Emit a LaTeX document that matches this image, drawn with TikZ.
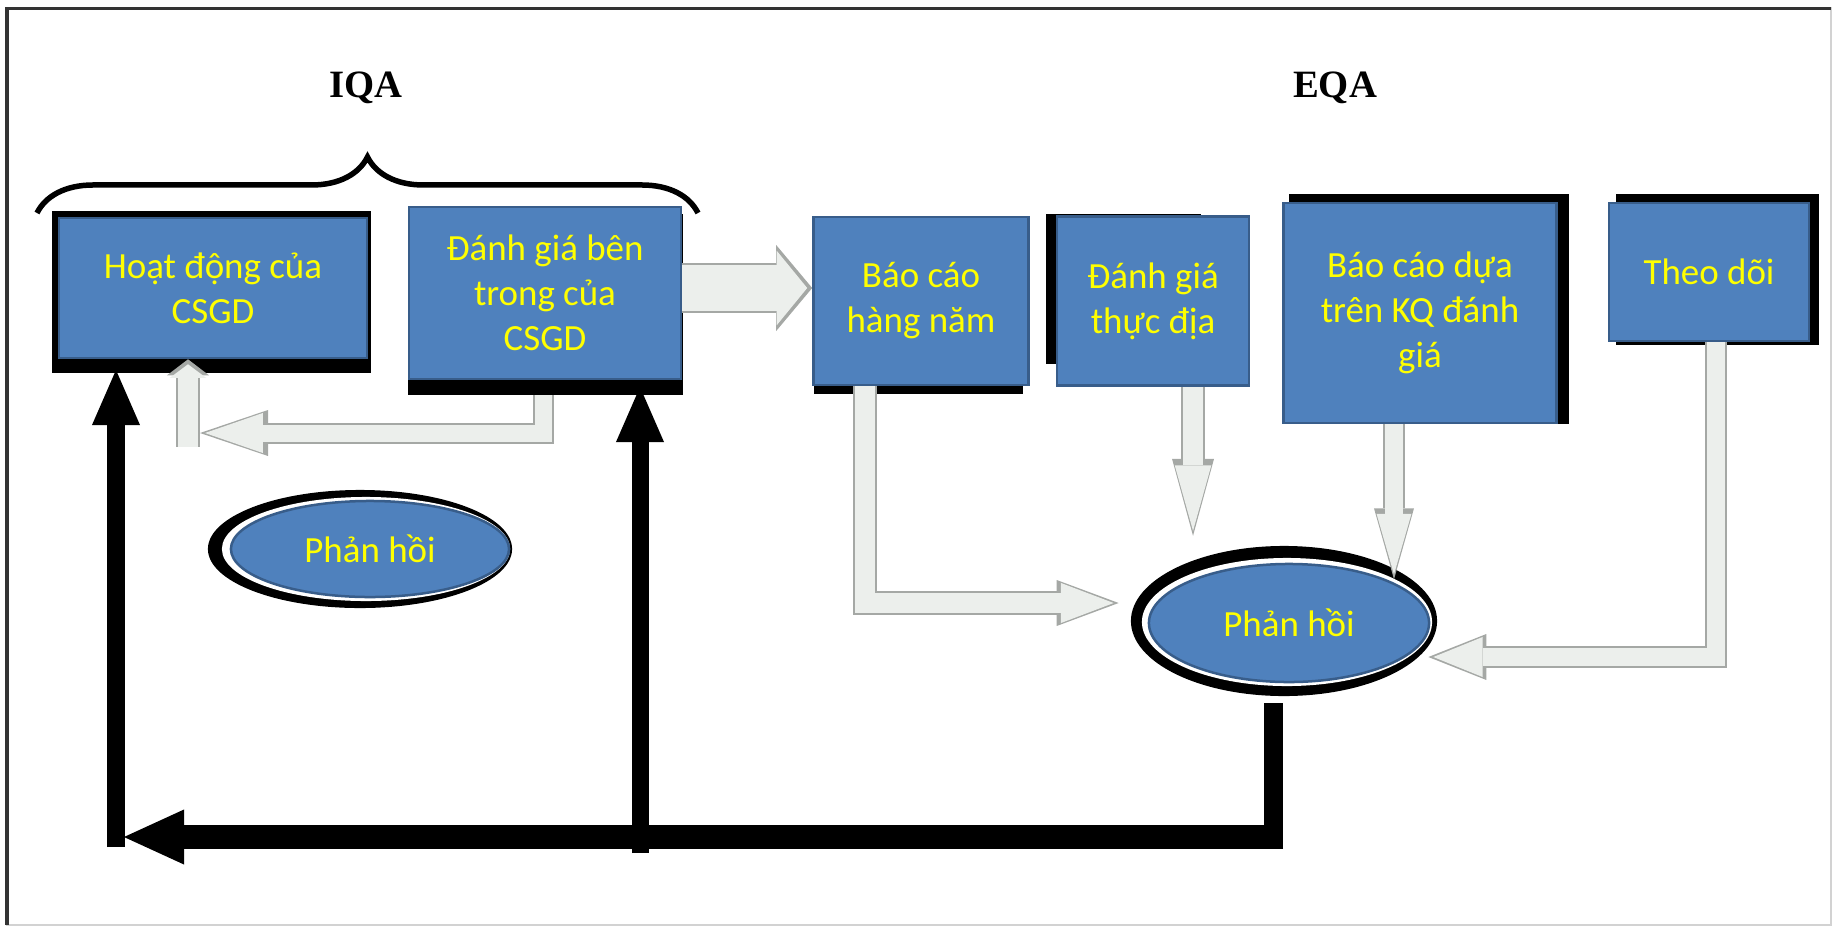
\documentclass[tikz,border=0pt]{standalone}
\usepackage{fontspec}
\newfontfamily\boxfont{Carlito}
\newfontfamily\headfont{Liberation Serif}
\usepackage{tikz}
\usetikzlibrary{arrows.meta, positioning, shapes.geometric, decorations.pathreplacing, backgrounds}
\definecolor{boxblue}{RGB}{79,129,189}
\definecolor{boxedge}{RGB}{56,93,138}
\definecolor{textyellow}{RGB}{255,255,0}
\definecolor{arrowrim}{RGB}{165,168,165}
\definecolor{arrowfill}{RGB}{236,239,236}

\begin{document}
\begin{tikzpicture}[x=0.01cm, y=-0.01cm,
      box/.style={rectangle, draw=boxedge, line width=0.025cm, fill=boxblue, text=textyellow, align=center, inner sep=0pt, font=\boxfont\fontsize{10.5}{12.8}\selectfont},
      fb/.style={ellipse, draw=boxedge, line width=0.025cm, fill=boxblue, text=textyellow, inner sep=0pt, font=\boxfont\fontsize{10.5}{12.8}\selectfont},
      head/.style={font=\headfont\bfseries\fontsize{11}{13}\selectfont},
      feedline/.style={draw=black, line width=0.17cm, line join=miter, -{Triangle[length=0.55cm, width=0.48cm, line width=0pt]}},
      hollow/.style n args={3}{preaction={draw=arrowrim, line width=#1+0.04cm, shorten >=0pt, -{Triangle[length=#3, width=#2, line width=0pt]}}, draw=arrowfill, line width=#1, line join=miter, shorten >=0.05cm, -{Triangle[length=0.85*#3, width=0.87*#2, line width=0pt]}}]
      \useasboundingbox (0,0) rectangle (1833,927);
      \draw[gray!35] (7,8) rectangle (1831,925);
      \draw[black!80, line width=0.03cm] (7,925) -- (7,8) -- (1831,8);

      \node[head] (iqa) at (366,88) {IQA};
      \node[head] (eqa) at (1335,88) {EQA};
      \draw[line width=0.055cm, decorate, decoration={brace, amplitude=0.56cm}] (37,213) -- (698,213);

      \node[box, minimum width=3.08cm, minimum height=1.40cm] (hoatdong) at (213,288) {Hoạt động của\\CSGD};
      \node[box, minimum width=2.72cm, minimum height=1.72cm] (dgbt) at (545,293) {Đánh giá bên\\trong của\\CSGD};
      \node[box, minimum width=2.15cm, minimum height=1.68cm] (baocao) at (921,301) {Báo cáo\\hàng năm};
      \node[box, minimum width=1.92cm, minimum height=1.69cm] (thucdia) at (1153,301) {Đánh giá\\thực địa};
      \node[box, minimum width=2.73cm, minimum height=2.20cm] (ketqua) at (1420,313) {Báo cáo dựa\\trên KQ đánh\\giá};
      \node[box, minimum width=2.00cm, minimum height=1.38cm] (theodoi) at (1709,272) {Theo dõi};
      \node[fb, minimum width=2.78cm, minimum height=0.96cm] (phtrong) at (370,549) {Phản hồi};
      \node[fb, minimum width=2.80cm, minimum height=1.18cm] (phngoai) at (1289,623) {Phản hồi};

      \coordinate (a1) at ([yshift=0.05cm]dgbt.east);
      \coordinate (a2) at ([shift={(-2,15)}]dgbt.south);
      \coordinate (upfoot) at (188,447);
      \coordinate (a4) at ([xshift=-0.56cm]baocao.south);
      \coordinate (low1) at (116,847);
      \coordinate (low2) at (640,853);
      \coordinate (turn) at (1273,837);

      \begin{pgfonlayer}{background}
        \foreach \n/\a/\b/\c/\d in {hoatdong/-6/-6/3/14, dgbt/0/8/1/15, baocao/2/13/-7/8, thucdia/-10/-1/-49/-23, ketqua/7/-8/11/0, theodoi/8/-8/9/3}
          \fill[black] ([shift={(\a,\b)}]\n.north west) rectangle ([shift={(\c,\d)}]\n.south east);
        \fill[black] ([xshift=-0.10cm]phtrong.center) ellipse [x radius=1.52cm, y radius=0.59cm];
        \fill[white] ([xshift=-0.04cm]phtrong.center) ellipse [x radius=1.44cm, y radius=0.52cm];
        \fill[black] ([xshift=-0.05cm, yshift=0.02cm]phngoai.center) ellipse [x radius=1.53cm, y radius=0.75cm];
        \fill[white] ([xshift=-0.02cm, yshift=0.01cm]phngoai.center) ellipse [x radius=1.45cm, y radius=0.64cm];

        \draw[hollow={0.45cm}{0.86cm}{0.36cm}] (a1) -- (a1 -| baocao.west);
        \draw[hollow={0.17cm}{0.46cm}{0.68cm}] (a2) |- ([shift={(12,-14)}]upfoot);
        \draw[hollow={0.20cm}{0.42cm}{0.16cm}] (upfoot) -- (upfoot |- hoatdong.south);
        \draw[hollow={0.20cm}{0.46cm}{0.62cm}] (a4) |- ([shift={(-29,-20)}]phngoai.west);
        \draw[hollow={0.20cm}{0.42cm}{0.77cm}] ([xshift=0.40cm]thucdia.south) -- ++(0,149);
        \draw[hollow={0.18cm}{0.40cm}{0.71cm}] ([xshift=-0.26cm]ketqua.south) -- ++(0,155);
        \draw[hollow={0.18cm}{0.46cm}{0.58cm}] ([xshift=0.07cm]theodoi.south) |- ([shift={(-2,34)}]phngoai.east);
      \end{pgfonlayer}

      \draw[feedline] (low1) -- ++(0,-477);
      \draw[feedline] (low2) -- ++(0,-466);
      \draw[line width=0.19cm] ([shift={(-16,20)}]phngoai.south) -- ([yshift=-0.12cm]turn);
      \draw[feedline, line width=0.24cm, -{Triangle[length=0.60cm, width=0.55cm, line width=0pt]}] ([xshift=0.1cm]turn) -- ([shift={(8,-10)}]low1);
    \end{tikzpicture}
\end{document}
